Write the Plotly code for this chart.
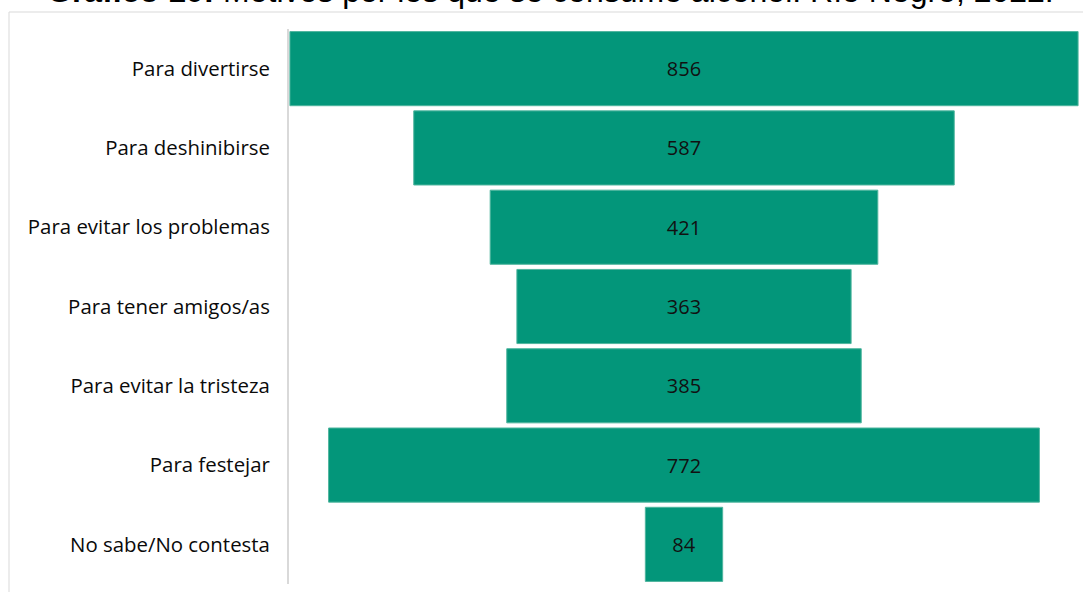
import plotly.graph_objects as go

categories = ["Para divertirse", "Para deshinibirse", "Para evitar los problemas",
              "Para tener amigos/as", "Para evitar la tristeza", "Para festejar",
              "No sabe/No contesta"]
values = [856, 587, 421, 363, 385, 772, 84]
title_bold = "Gráfico 10:"
title_rest = " Motivos por los que se consume alcohol. Río Negro, 2022."

W, H = 1083, 592
ml, mr, mt, mb = 289, 4, 29, 8
pw, ph = W - ml - mr, H - mt - mb

def px_x(px):
    return (px - ml) / pw

def px_y(py):
    return (H - mb - py) / ph

FONT = "Open Sans, Noto Sans, sans-serif"

fig = go.Figure(go.Funnel(
    y=categories,
    x=values,
    textinfo="value",
    textposition="inside",
    insidetextanchor="middle",
    textfont=dict(family=FONT, size=20, color="#111111"),
    marker=dict(color="#03967a", line=dict(color="#4fb59e", width=1)),
    connector=dict(visible=False),
    hoverinfo="y+x",
))

fig.update_layout(
    width=W, height=H,
    margin=dict(l=ml, r=mr, t=mt, b=mb),
    paper_bgcolor="white",
    plot_bgcolor="white",
    funnelgap=0.065,
    showlegend=False,
    font=dict(family=FONT, size=20, color="#111111"),
    xaxis=dict(range=[-429, 429], visible=False, fixedrange=True),
    yaxis=dict(showline=True, linecolor="#d9d9d9", linewidth=2, ticks="",
               ticklabelstandoff=13, showgrid=False,
               tickfont=dict(family=FONT, size=20.4, color="#0a0a0a")),
    shapes=[dict(type="rect", xref="paper", yref="paper",
                 x0=px_x(9), x1=px_x(1200), y0=px_y(700), y1=px_y(12),
                 line=dict(color="#d9d9d9", width=1), layer="below")],
    annotations=[dict(
        text="<b>" + title_bold + "</b>" + title_rest,
        xref="paper", yref="paper", x=px_x(550), y=px_y(-9),
        xanchor="center", yanchor="middle", showarrow=False,
        font=dict(family="Liberation Sans, Arial, sans-serif", size=32, color="#000000"),
    )],
)

fig.write_html("out.html",
               config={"displayModeBar": False},
               post_script="document.body.style.margin='0';document.body.style.overflow='hidden';")
